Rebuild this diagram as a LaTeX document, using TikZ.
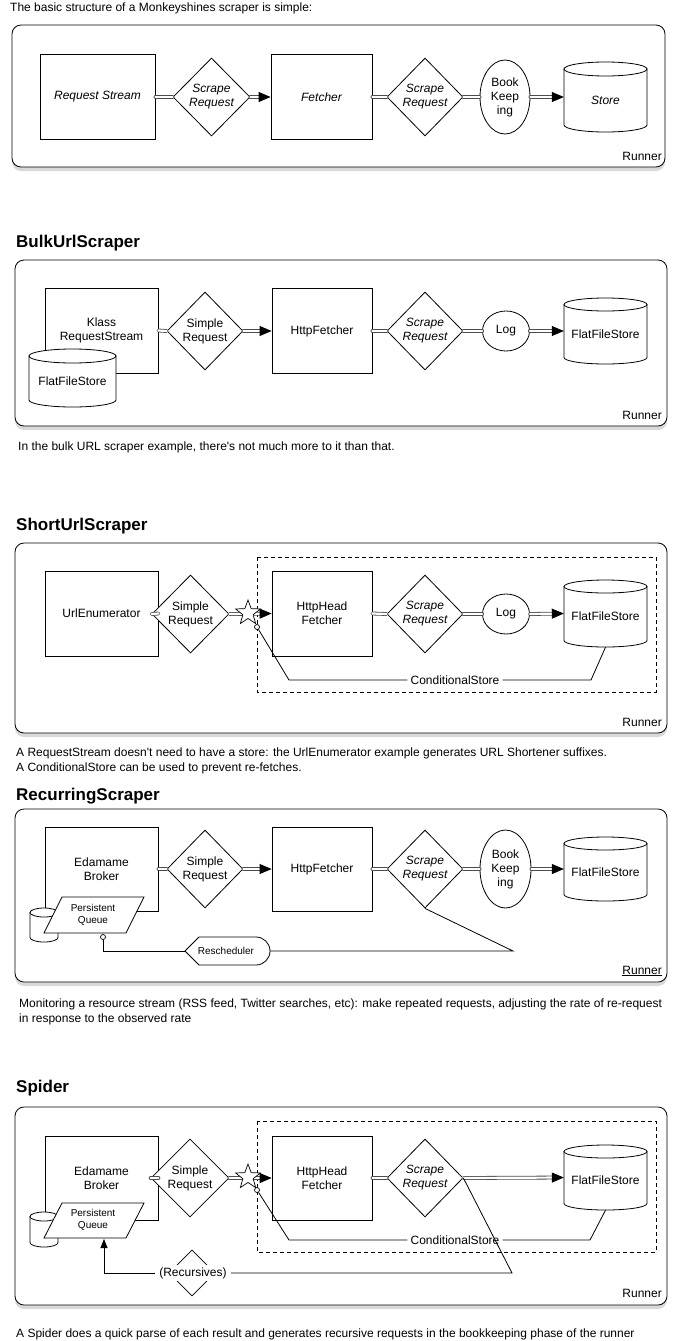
\documentclass[tikz,border=0pt]{standalone}
\usepackage{fontspec}
\setmainfont{Liberation Sans}
\usetikzlibrary{shapes.geometric,arrows.meta,shadows,calc}
\newcommand{\mkcyl}[7]{%
  \pgfmathsetmacro\cyA{#2-#4/2}%
  \pgfmathsetmacro\cyB{#2+#4/2}%
  \pgfmathsetmacro\cyC{#3-#5/2+#6}%
  \pgfmathsetmacro\cyD{#3+#5/2-#6}%
  \pgfmathsetmacro\cyR{#4/2}%
  \path[shapeline] (\cyA,\cyC) -- (\cyA,\cyD) arc[start angle=180, end angle=360, x radius=\cyR pt, y radius=#6 pt] -- (\cyB,\cyC) -- cycle;
  \path[shapeline] (#2,\cyC) ellipse[x radius=\cyR pt, y radius=#6 pt];
  \node[inner sep=0pt, minimum width=#4pt, minimum height=#5pt] (#1) at (#2,#3) {};
  \node[inner sep=0pt, yshift=-3pt] (#1t) at (#2,#3) {#7};
}
\begin{document}
\begin{tikzpicture}[x=1pt,y=-1pt,
  every node/.style={font=\fontsize{12}{14}\selectfont, align=center},
  frame/.style={draw, rounded corners=9pt, fill=white, line width=0.8pt, inner sep=0pt,
    drop shadow={shadow xshift=0pt, shadow yshift=-4pt, opacity=0.3}},
  shapeline/.style={draw, fill=white, line width=0.8pt},
  box/.style={draw, fill=white, line width=0.8pt, inner sep=0pt},
  dia/.style={diamond, draw, fill=white, line width=0.8pt, inner sep=0pt},
  ell/.style={ellipse, draw, fill=white, line width=0.8pt, inner sep=0pt},
  dbl/.style={draw=black!70, double=white, double distance=2.2pt, line width=0.8pt, line cap=round},
  dblarr/.style={dbl, -{Triangle[length=12pt,width=10pt,color=black]}},
  thinline/.style={draw, line width=0.8pt},
  dashbox/.style={draw, line width=0.8pt, dash pattern=on 4pt off 3pt},
  heading/.style={font=\fontsize{17}{20}\selectfont\bfseries, anchor=west, inner sep=0pt},
  captxt/.style={anchor=west, inner sep=0pt},
  lbl/.style={inner sep=0pt},
  small/.style={font=\fontsize{10}{12}\selectfont},
  runner/.style={anchor=east, inner sep=0pt},
  starnode/.style={star, star points=5, star point ratio=2.4, draw, fill=white, line width=0.7pt, minimum size=26pt, inner sep=0pt},
  dot/.style={circle, draw, fill=white, line width=0.7pt, minimum size=5pt, inner sep=0pt},
]
\useasboundingbox (0,0) rectangle (679,1341);

% ================= Panel 1 =================
\node[captxt] (t1) at (10,8) {The basic structure of a Monkeyshines scraper is simple:};
\node[frame, minimum width=653pt, minimum height=142pt] (f1) at (338.5,96) {};
\node[box, minimum width=115pt, minimum height=85pt] (s1rs) at (97.5,97) {\itshape Request Stream};
\node[dia, minimum width=77pt, minimum height=78pt] (s1d1) at (211.5,97) {\itshape Scrape\\\itshape Request};
\node[box, minimum width=101pt, minimum height=85pt] (s1fe) at (321.5,97) {\itshape Fetcher};
\node[dia, minimum width=76pt, minimum height=78pt] (s1d2) at (425,97) {\itshape Scrape\\\itshape Request};
\node[ell, minimum width=50pt, minimum height=74pt] (s1bk) at (505,97) {Book\\Keep\\ing};
\mkcyl{s1st}{605.5}{97}{83}{70}{7}{\itshape Store}
\node[runner] (r1) at (662,156) {Runner};
\draw[dbl] (s1rs.east) -- (s1d1.west);
\draw[dblarr] (s1d1.east) -- (s1fe.west);
\draw[dbl] (s1fe.east) -- (s1d2.west);
\draw[dbl] (s1d2.east) -- (s1bk.west);
\draw[dblarr] (s1bk.east) -- (s1st.west);

% ================= Panel 2 =================
\node[heading] (h2) at (16,243) {BulkUrlScraper};
\node[frame, minimum width=652pt, minimum height=166pt] (f2) at (341,343) {};
\node[box, minimum width=113pt, minimum height=85pt] (s2rs) at (101.5,330.5) {Klass\\RequestStream};
\mkcyl{s2fs}{72.5}{378}{87}{58}{7}{FlatFileStore}
\node[dia, minimum width=76pt, minimum height=78pt] (s2d1) at (205,331) {Simple\\Request};
\node[box, minimum width=100pt, minimum height=85pt] (s2fe) at (322,331) {HttpFetcher};
\node[dia, minimum width=76pt, minimum height=78pt] (s2d2) at (425,331) {\itshape Scrape\\\itshape Request};
\node[ell, minimum width=47pt, minimum height=40pt] (s2log) at (506,331) {Log};
\mkcyl{s2st}{605.5}{331}{83}{66}{6.5}{FlatFileStore}
\node[runner] (r2) at (662,415) {Runner};
\draw[dbl] (s2rs.east) -- (s2d1.west);
\draw[dblarr] (s2d1.east) -- (s2fe.west);
\draw[dbl] (s2fe.east) -- (s2d2.west);
\draw[dbl] (s2d2.east) -- (s2log.west);
\draw[dblarr] (s2log.east) -- (s2st.west);
\node[captxt] (c2) at (18,447) {In the bulk URL scraper example, there\textquotesingle s not much more to it than that.};

% ================= Panel 3 =================
\node[heading] (h3) at (16,526) {ShortUrlScraper};
\node[frame, minimum width=652pt, minimum height=190pt] (f3) at (341,638) {};
\draw[dashbox] (257,557) rectangle (656,692);
\node[box, minimum width=113pt, minimum height=85pt] (s3ue) at (101.5,613.5) {UrlEnumerator};
\node[dia, minimum width=77pt, minimum height=78pt] (s3d1) at (190.5,614) {Simple\\Request};
\node[box, minimum width=100pt, minimum height=85pt] (s3fe) at (322,613.5) {HttpHead\\Fetcher};
\node[dia, minimum width=76pt, minimum height=78pt] (s3d2) at (425,614) {\itshape Scrape\\\itshape Request};
\node[ell, minimum width=47pt, minimum height=40pt] (s3log) at (506,614) {Log};
\mkcyl{s3st}{605.5}{613.5}{83}{67}{6.5}{FlatFileStore}
\node[lbl, inner xsep=3pt] (s3cs) at (455,680) {ConditionalStore};
\node[runner] (r3) at (662,722) {Runner};
\draw[dbl] (s3ue.east) -- (s3d1.west);
\draw[dblarr] (s3d1.east) -- (s3fe.west);
\draw[dbl] (s3fe.east) -- (s3d2.west);
\draw[dbl] (s3d2.east) -- (s3log.west);
\draw[dblarr] (s3log.east) -- (s3st.west);
\node[starnode] (s3star) at (248,613) {};
\node[dot] (s3c) at (257,627) {};
\draw[thinline] (s3c) -- (289,680) -- (s3cs.west);
\draw[thinline] (s3cs.east) -- (591,680) -- (s3st.south);
\node[captxt] (c3a) at (16,753) {A RequestStream doesn\textquotesingle t need to have a store: the UrlEnumerator example generates URL Shortener suffixes.};
\node[captxt] (c3b) at (16,768) {A ConditionalStore can be used to prevent re-fetches.};

% ================= Panel 4 =================
\node[heading] (h4) at (16,796) {RecurringScraper};
\node[frame, minimum width=652pt, minimum height=173pt] (f4) at (341,895.5) {};
\node[box, minimum width=113pt, minimum height=84pt] (s4eb) at (101.5,869) {Edamame\\Broker};
\mkcyl{s4sc}{44}{925}{28}{34}{4.5}{}
\draw[shapeline] (62,897) -- (144,897) -- (126,933) -- (44,933) -- cycle;
\node[lbl, small] (s4pq) at (93,915) {Persistent\\Queue};
\node[dot] (s4c) at (103,937) {};
\node[dia, minimum width=76pt, minimum height=78pt] (s4d1) at (205,869) {Simple\\Request};
\node[box, minimum width=100pt, minimum height=84pt] (s4fe) at (322,869) {HttpFetcher};
\node[dia, minimum width=76pt, minimum height=78pt] (s4d2) at (425,869) {\itshape Scrape\\\itshape Request};
\node[ell, minimum width=51pt, minimum height=78pt] (s4bk) at (505.5,869) {Book\\Keep\\ing};
\mkcyl{s4st}{605.5}{869}{83}{64}{6.5}{FlatFileStore}
\draw[shapeline] (185,951) -- (199,937) -- (256,937) arc[start angle=90, end angle=-90, radius=14pt] -- (199,965) -- cycle;
\node[lbl, small, minimum width=85pt, minimum height=28pt] (s4rs) at (226,951) {Rescheduler};
\node[runner] (r4) at (662,971) {\underline{Runner}};
\draw[dbl] (s4eb.east) -- (s4d1.west);
\draw[dblarr] (s4d1.east) -- (s4fe.west);
\draw[dbl] (s4fe.east) -- (s4d2.west);
\draw[dbl] (s4d2.east) -- (s4bk.west);
\draw[dblarr] (s4bk.east) -- (s4st.west);
\coordinate (s4k) at (513,951);
\draw[thinline] (s4c.south) |- (185,951);
\draw[thinline] (270,951) -- (s4k) -- (s4d2.south);
\node[captxt] (c4a) at (19,1004) {Monitoring a resource stream (RSS feed, Twitter searches, etc): make repeated requests, adjusting the rate of re-request};
\node[captxt] (c4b) at (19,1019) {in response to the observed rate};

% ================= Panel 5 =================
\node[heading] (h5) at (16,1088) {Spider};
\node[frame, minimum width=652pt, minimum height=198pt] (f5) at (341,1206) {};
\draw[dashbox] (257,1121) rectangle (656,1252);
\node[box, minimum width=113pt, minimum height=84pt] (s5eb) at (101.5,1178) {Edamame\\Broker};
\mkcyl{s5sc}{44}{1229.5}{28}{35}{4.5}{}
\draw[shapeline] (62,1203) -- (144,1203) -- (126,1238) -- (44,1238) -- cycle;
\node[lbl, small] (s5pq) at (93,1220) {Persistent\\Queue};
\coordinate (s5pqb) at (104,1239);
\node[dia, minimum width=78pt, minimum height=78pt] (s5d1) at (190,1178) {Simple\\Request};
\node[box, minimum width=100pt, minimum height=84pt] (s5fe) at (322,1178) {HttpHead\\Fetcher};
\node[dia, minimum width=76pt, minimum height=78pt] (s5d2) at (425,1178) {\itshape Scrape\\\itshape Request};
\mkcyl{s5st}{605.5}{1177.5}{83}{65}{6.5}{FlatFileStore}
\node[lbl, inner xsep=3pt] (s5cs) at (455,1240) {ConditionalStore};
\node[dia, minimum width=46pt, minimum height=46pt] (s5rd) at (192,1273) {};
\node[lbl, fill=white, inner xsep=4pt, inner ysep=2pt] (s5rec) at (193,1273) {(Recursives)};
\node[runner] (r5) at (662,1293) {Runner};
\draw[dbl] (s5eb.east) -- (s5d1.west);
\draw[dblarr] (s5d1.east) -- (s5fe.west);
\draw[dbl] (s5fe.east) -- (s5d2.west);
\draw[dblarr] (s5d2.east) -- (s5st.west);
\node[starnode] (s5star) at (248,1177) {};
\node[dot] (s5c) at (257,1190) {};
\draw[thinline] (s5c) -- (289,1240) -- (s5cs.west);
\draw[thinline] (s5cs.east) -- (590,1240) -- (s5st.south);
\coordinate (s5k) at (512,1273);
\draw[thinline] (s5d2.east) -- (s5k) -- (s5rec.east);
\draw[thinline, -{Triangle[length=9pt,width=7pt]}] (s5rec.west) -| (s5pqb);
\node[captxt] (c5) at (16,1334) {A Spider does a quick parse of each result and generates recursive requests in the bookkeeping phase of the runner};
\end{tikzpicture}
\end{document}
